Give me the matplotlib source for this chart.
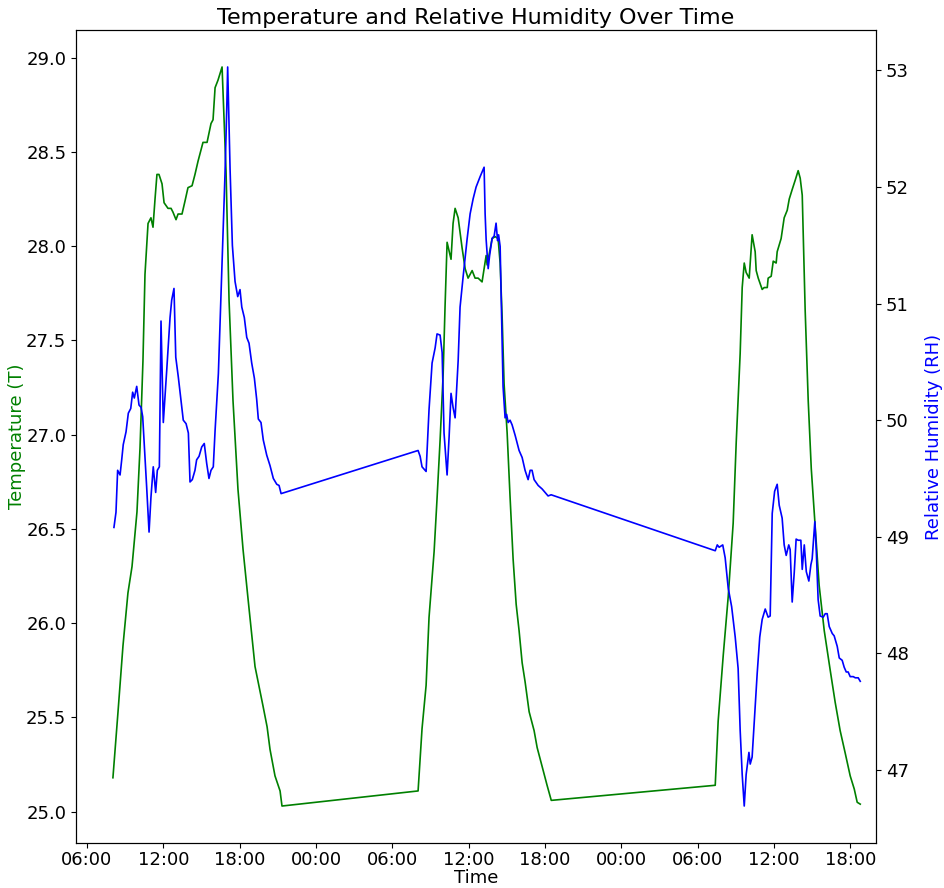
import datetime as dt
import matplotlib
matplotlib.use("Agg")
import matplotlib.pyplot as plt
import matplotlib.dates as mdates

start = dt.datetime(2023, 7, 1)

# Temperature: hours since day-1 midnight and values (deg)
temp_hours_d1 = [8.04, 8.44, 8.83, 9.22, 9.54, 9.93, 10.17, 10.40, 10.56, 10.80,
                 11.03, 11.19, 11.35, 11.50, 11.66, 11.90, 12.06, 12.37, 12.61, 12.76,
                 13.00, 13.16, 13.47, 13.71, 13.94, 14.26, 14.49, 14.73, 15.12, 15.44,
                 15.75, 15.91, 16.07, 16.30, 16.62, 16.93, 17.17, 17.48, 17.87, 18.27,
                 18.66, 19.21, 19.84, 20.16, 20.39, 20.78, 21.18, 21.33]
temp_vals_d1 = [25.18, 25.53, 25.88, 26.16, 26.30, 26.59, 26.93, 27.39, 27.85, 28.12,
                28.15, 28.10, 28.25, 28.38, 28.38, 28.33, 28.23, 28.20, 28.20, 28.18,
                28.14, 28.17, 28.17, 28.24, 28.31, 28.32, 28.38, 28.45, 28.55, 28.55,
                28.65, 28.67, 28.84, 28.88, 28.95, 28.40, 27.71, 27.18, 26.71, 26.39,
                26.13, 25.77, 25.56, 25.45, 25.33, 25.19, 25.11, 25.03]
temp_hours_d2 = [32.03, 32.34, 32.66, 32.89, 33.29, 33.52, 33.76, 34.00, 34.15, 34.31,
                 34.62, 34.78, 34.94, 35.18, 35.49, 35.73, 35.96, 36.28, 36.51, 36.75,
                 37.06, 37.38, 37.46, 37.85, 38.09, 38.32, 38.48, 38.64, 38.79, 39.03,
                 39.26, 39.50, 39.74, 39.97, 40.21, 40.44, 40.76, 41.15, 41.39, 41.78,
                 42.17, 42.50]
temp_vals_d2 = [25.11, 25.44, 25.67, 26.03, 26.38, 26.66, 26.97, 27.32, 27.68, 28.02,
                27.93, 28.12, 28.20, 28.15, 27.99, 27.88, 27.83, 27.87, 27.83, 27.83,
                27.81, 27.95, 27.90, 28.04, 28.05, 28.04, 27.91, 27.62, 27.27, 27.01,
                26.67, 26.34, 26.10, 25.96, 25.79, 25.69, 25.53, 25.43, 25.34, 25.24,
                25.14, 25.06]
temp_hours_d3 = [55.39, 55.62, 56.02, 56.41, 56.80, 57.04, 57.35, 57.51, 57.67, 57.82,
                 58.06, 58.22, 58.29, 58.53, 58.61, 58.77, 59.08, 59.24, 59.48, 59.55,
                 59.79, 59.95, 60.18, 60.26, 60.57, 60.81, 61.05, 61.21, 61.44, 61.68,
                 61.91, 62.07, 62.23, 62.46, 62.70, 62.94, 63.25, 63.56, 63.96, 64.43,
                 64.82, 65.21, 65.61, 66.00, 66.32, 66.55, 66.79]
temp_vals_d3 = [25.14, 25.48, 25.83, 26.14, 26.53, 26.96, 27.43, 27.78, 27.91, 27.86,
                27.83, 27.99, 28.06, 27.97, 27.87, 27.83, 27.77, 27.78, 27.78, 27.83,
                27.84, 27.92, 27.91, 27.97, 28.04, 28.15, 28.19, 28.25, 28.30, 28.35,
                28.40, 28.36, 28.27, 27.66, 27.18, 26.82, 26.51, 26.20, 25.96, 25.75,
                25.58, 25.43, 25.31, 25.19, 25.12, 25.05, 25.04]

# Relative humidity: hours since day-1 midnight and values (%)
rh_hours_d1 = [8.12, 8.28, 8.41, 8.60, 8.73, 8.85, 9.07, 9.25, 9.44, 9.59,
               9.72, 9.91, 10.09, 10.25, 10.38, 10.56, 10.69, 10.88, 11.03, 11.21,
               11.40, 11.53, 11.69, 11.82, 12.00, 12.27, 12.53, 12.66, 12.84, 12.98,
               13.18, 13.39, 13.57, 13.79, 13.97, 14.10, 14.28, 14.49, 14.62, 14.81,
               15.02, 15.22, 15.41, 15.59, 15.75, 15.93, 16.07, 16.33, 16.59, 16.85,
               16.99, 17.06, 17.25, 17.43, 17.64, 17.85, 18.03, 18.17, 18.37, 18.56,
               18.74, 18.95, 19.16, 19.34, 19.47, 19.68, 19.86, 20.13, 20.39, 20.65,
               20.92, 21.10, 21.26]
rh_vals_d1 = [49.08, 49.21, 49.57, 49.53, 49.66, 49.79, 49.90, 50.06, 50.10, 50.24,
              50.19, 50.29, 50.13, 50.11, 50.03, 49.68, 49.43, 49.04, 49.34, 49.60,
              49.38, 49.57, 49.60, 50.85, 49.98, 50.43, 50.88, 51.03, 51.13, 50.54,
              50.37, 50.17, 50.00, 49.97, 49.89, 49.47, 49.49, 49.57, 49.66, 49.69,
              49.77, 49.80, 49.63, 49.50, 49.57, 49.60, 49.91, 50.40, 51.26, 52.11,
              52.68, 53.03, 52.15, 51.50, 51.19, 51.06, 51.12, 50.97, 50.88, 50.71,
              50.66, 50.49, 50.36, 50.18, 50.01, 49.98, 49.83, 49.70, 49.61, 49.50,
              49.45, 49.44, 49.37]
rh_hours_d2 = [32.03, 32.19, 32.34, 32.66, 32.89, 33.13, 33.37, 33.52, 33.76, 33.92,
               34.07, 34.31, 34.47, 34.62, 34.78, 34.94, 35.18, 35.33, 35.57, 35.88,
               36.12, 36.36, 36.59, 36.91, 37.22, 37.30, 37.38, 37.54, 37.65, 37.85,
               38.01, 38.16, 38.28, 38.36, 38.48, 38.71, 38.87, 38.99, 39.11, 39.26,
               39.42, 39.66, 39.97, 40.21, 40.44, 40.68, 40.84, 40.99, 41.15, 41.47,
               41.78, 42.02, 42.25, 42.49]
rh_vals_d2 = [49.74, 49.69, 49.60, 49.56, 50.09, 50.49, 50.62, 50.74, 50.73, 50.58,
              49.89, 49.53, 49.86, 50.23, 50.11, 50.02, 50.51, 50.97, 51.23, 51.55,
              51.77, 51.90, 52.00, 52.09, 52.17, 51.77, 51.55, 51.30, 51.41, 51.56,
              51.58, 51.69, 51.54, 51.59, 51.49, 50.29, 50.02, 50.05, 49.98, 50.00,
              49.96, 49.87, 49.74, 49.68, 49.57, 49.49, 49.57, 49.57, 49.49, 49.44,
              49.41, 49.38, 49.35, 49.36]
rh_hours_d3 = [55.39, 55.55, 55.70, 55.98, 56.17, 56.41, 56.68, 56.96, 57.19, 57.35,
               57.51, 57.67, 57.82, 58.04, 58.14, 58.29, 58.50, 58.69, 58.89, 59.08,
               59.32, 59.55, 59.71, 59.87, 60.06, 60.26, 60.42, 60.65, 60.81, 60.97,
               61.17, 61.28, 61.44, 61.60, 61.75, 61.91, 62.12, 62.23, 62.39, 62.55,
               62.75, 62.91, 63.01, 63.22, 63.33, 63.48, 63.64, 63.88, 64.04, 64.19,
               64.35, 64.59, 64.74, 64.98, 65.14, 65.37, 65.53, 65.69, 65.84, 66.00,
               66.24, 66.40, 66.63, 66.79]
rh_vals_d3 = [48.88, 48.93, 48.91, 48.93, 48.82, 48.56, 48.40, 48.14, 47.87, 47.34,
              46.96, 46.69, 46.96, 47.15, 47.05, 47.11, 47.49, 47.83, 48.14, 48.29,
              48.38, 48.31, 48.32, 49.20, 49.39, 49.45, 49.27, 49.16, 48.93, 48.84,
              48.93, 48.89, 48.44, 48.69, 48.98, 48.97, 48.97, 48.72, 48.93, 48.70,
              48.62, 48.76, 48.81, 49.13, 48.89, 48.46, 48.32, 48.31, 48.34, 48.34,
              48.23, 48.17, 48.15, 48.06, 47.96, 47.94, 47.88, 47.84, 47.84, 47.80,
              47.80, 47.79, 47.79, 47.76]

temp_hours = temp_hours_d1 + temp_hours_d2 + temp_hours_d3
temp_vals = temp_vals_d1 + temp_vals_d2 + temp_vals_d3
rh_hours = rh_hours_d1 + rh_hours_d2 + rh_hours_d3
rh_vals = rh_vals_d1 + rh_vals_d2 + rh_vals_d3

temp_times = [start + dt.timedelta(hours=h) for h in temp_hours]
rh_times = [start + dt.timedelta(hours=h) for h in rh_hours]

fig = plt.figure(figsize=(9.45, 8.88), dpi=100)
ax1 = fig.add_axes([0.0804, 0.0507, 0.8466, 0.9155])
ax1.plot(temp_times, temp_vals, color="green", linewidth=1.2)
ax1.set_xlabel("Time", fontsize=13, labelpad=0)
ax1.set_ylabel("Temperature (T)", color="green", fontsize=13, labelpad=0)
ax1.tick_params(axis="y", labelsize=13)
ax1.tick_params(axis="x", labelsize=13, pad=2)
ax1.xaxis.set_major_locator(mdates.HourLocator(byhour=[0, 6, 12, 18]))
ax1.xaxis.set_major_formatter(mdates.DateFormatter("%H:%M"))
ax1.set_xlim(start + dt.timedelta(hours=5.135), start + dt.timedelta(hours=68.03))

ax2 = ax1.twinx()
ax2.plot(rh_times, rh_vals, color="blue", linewidth=1.2)
ax2.set_ylabel("Relative Humidity (RH)", color="blue", fontsize=13, labelpad=12)
ax2.tick_params(axis="y", labelsize=13)

ax1.set_title("Temperature and Relative Humidity Over Time", fontsize=16, pad=4)

fig.savefig("out.png", dpi=100)
